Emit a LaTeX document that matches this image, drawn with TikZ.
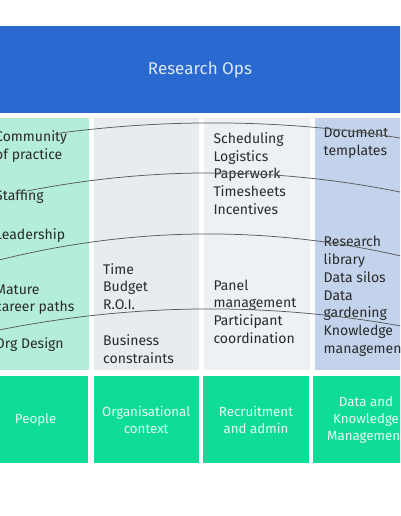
\documentclass[tikz,border=0pt]{standalone}
\usepackage{fontspec}
\setmainfont{Fira Sans}
\definecolor{opsblue}{HTML}{2A6AD0}
\definecolor{opstext}{HTML}{DCE7F8}
\definecolor{colA}{HTML}{B4EDD9}
\definecolor{colB}{HTML}{E8EBEF}
\definecolor{colC}{HTML}{EDF1F4}
\definecolor{colD}{HTML}{C3D3EC}
\definecolor{grn}{HTML}{0FDD96}
\definecolor{boxtxt}{HTML}{E6FAF2}
\definecolor{txt}{HTML}{2A2A2A}
\definecolor{linec}{HTML}{5A5A5A}
\begin{document}
\begin{tikzpicture}[x=1pt,y=-1pt,
  band/.style={fill=opsblue, draw=none, inner sep=0, text=opstext,
    font=\fontsize{17}{20}\selectfont},
  colbox/.style={draw=none, inner sep=0},
  item/.style={anchor=base west, inner sep=0, align=left, text=txt,
    font=\fontsize{14}{17.8}\selectfont},
  bottombox/.style={fill=grn, draw=none, inner sep=0, minimum height=87.6pt,
    align=center, text=boxtxt, font=\fontsize{13.3}{17}\selectfont},
  link/.style={draw=linec, line width=0.75pt}]
\useasboundingbox (0,0) rectangle (400,516);
\clip (0,0) rectangle (400,516);
\fill[white] (0,0) rectangle (400,516);
% top band
\node[band, minimum width=440pt, minimum height=87.3pt] (ops) at (200,69.65) {Research Ops};
% columns
\node[colbox, fill=colA, minimum width=105pt, minimum height=251.5pt] (colA) at (36.2,243.75) {};
\node[colbox, fill=colB, minimum width=105pt, minimum height=251.5pt] (colB) at (146.5,243.75) {};
\node[colbox, fill=colC, minimum width=106pt, minimum height=251.5pt] (colC) at (257,243.75) {};
\node[colbox, fill=colD, minimum width=105pt, minimum height=251.5pt] (colD) at (367.5,243.75) {};
% column texts (anchored at the baseline of their last line)
\node[item] (a1) at (-5,159.5) {Community\\of practice};
\node[item] (a2) at (-5,200.7) {Staffing};
\node[item] (a3) at (-5,239) {Leadership};
\node[item] (a4) at (-5,311.8) {Mature\\career paths};
\node[item] (a5) at (-5,348.3) {Org Design};
\node[item] (b1) at (103,309.6) {Time\\Budget\\R.O.I.};
\node[item] (b2) at (103,363.5) {Business\\constraints};
\node[item] (c1) at (213.3,214.5) {Scheduling\\Logistics\\Paperwork\\Timesheets\\Incentives};
\node[item] (c2) at (213.3,343.4) {Panel\\management\\Participant\\coordination};
\node[item] (d1) at (323.5,155.5) {Document\\templates};
\node[item] (d2) at (323.5,353.5) {Research\\library\\Data silos\\Data\\gardening\\Knowledge\\management};
% bottom boxes
\node[bottombox, minimum width=105.3pt] (people) at (35.65,419.5) {People};
\node[bottombox, minimum width=105pt] (org) at (146.2,419.5) {Organisational\\context};
\node[bottombox, minimum width=105.4pt] (recr) at (256,419.5) {Recruitment\\and admin};
\node[bottombox, minimum width=105.4pt] (data) at (366,419.5) {Data and\\Knowledge\\Management};
% connectors
\coordinate (l1s) at (60,133);  \coordinate (l1e) at (400,138);
\coordinate (l2s) at (27,191);  \coordinate (l2e) at (400,192);
\coordinate (l3s) at (-1,260);  \coordinate (l3e) at (401,256);
\coordinate (l4s) at (-1,330);  \coordinate (l4e) at (401,326);
\draw[link] (l1s) .. controls (173.3,118.1) and (286.7,119.7) .. (l1e);
\draw[link] (l2s) .. controls (151.3,166.6) and (275.7,166.9) .. (l2e);
\draw[link] (l3s) .. controls (133.3,226.7) and (266.7,225.3) .. (l3e);
\draw[link] (l4s) .. controls (133.3,303.3) and (266.7,302) .. (l4e);
\end{tikzpicture}
\end{document}
